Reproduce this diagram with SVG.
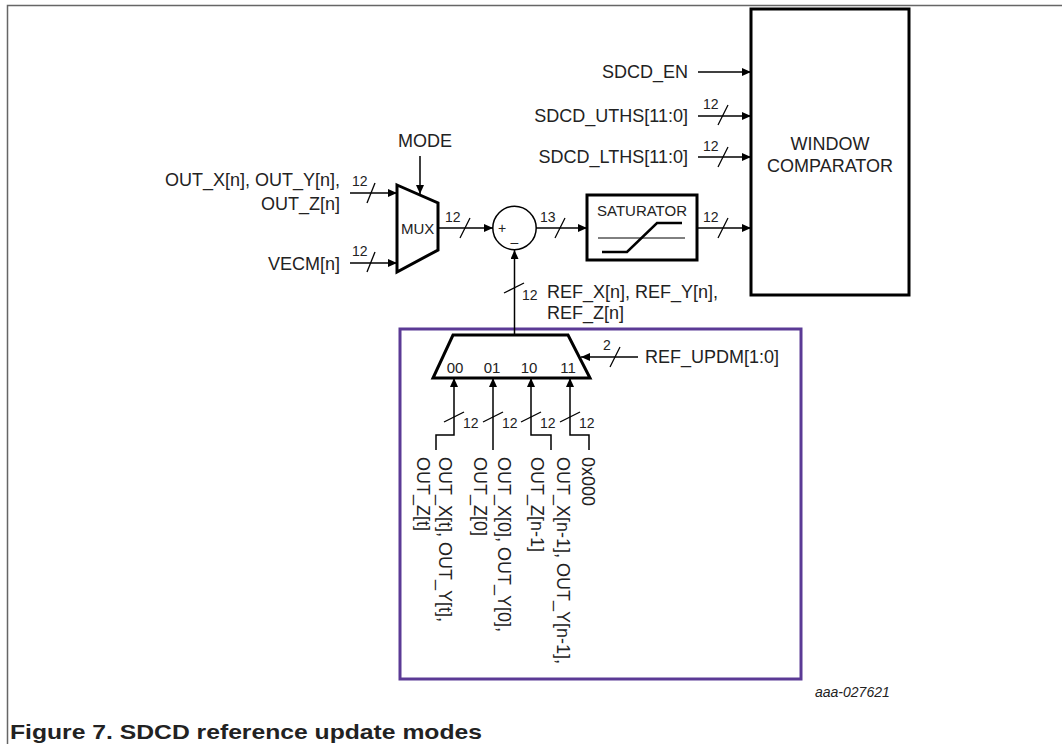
<svg xmlns="http://www.w3.org/2000/svg" width="1062" height="744" viewBox="0 0 1062 744">
<defs>
<marker id="ah" markerWidth="10" markerHeight="8" refX="9" refY="4" orient="auto" markerUnits="userSpaceOnUse">
<path d="M0,0 L9,4 L0,8 Z" fill="#000"/>
</marker>
<style>
text{font-family:"Liberation Sans",Arial,sans-serif;fill:#222}
.l{font-size:18px}
.s{font-size:14px}
.m{font-size:15px}
.w{stroke:#000;stroke-width:1.5;fill:none}
.sl{stroke:#000;stroke-width:1.3;fill:none}
.b{stroke:#000;stroke-width:3;fill:#fff}
</style>
</defs>
<rect width="1062" height="744" fill="#fff"/>
<path d="M7.5,744 V5.5 H1062" fill="none" stroke="#666" stroke-width="1.5"/>

<g id="window-comparator">
<rect class="b" x="751" y="9" width="158" height="286"/>
<text class="l" x="830" y="150" text-anchor="middle">WINDOW</text>
<text class="l" x="830" y="172" text-anchor="middle">COMPARATOR</text>
</g>

<g id="mux">
<path class="b" d="M397,185 L438,203 L438,250 L397,272 Z"/>
<text class="m" x="401" y="234">MUX</text>
</g>

<g id="summer">
<circle cx="514.5" cy="228" r="21.7" fill="#fff" stroke="#000" stroke-width="1.5"/>
<text class="s" x="502" y="233" text-anchor="middle">+</text>
<text class="s" x="514.5" y="247" text-anchor="middle">–</text>
</g>

<g id="saturator">
<rect class="b" x="587" y="195" width="110" height="65"/>
<text class="m" x="642" y="216" text-anchor="middle">SATURATOR</text>
<line x1="598" y1="238" x2="685" y2="238" stroke="#000" stroke-width="1"/>
<path d="M602,252 H627 L657,223 H682" fill="none" stroke="#000" stroke-width="2.5"/>
</g>

<g id="ref-mux-box">
<rect x="400" y="329" width="401" height="350" fill="none" stroke="#5b3a95" stroke-width="3"/>
</g>

<g id="ref-mux">
<path class="b" d="M453,335 L568,335 L590,378 L433,378 Z"/>
<text class="m" x="455" y="373" text-anchor="middle">00</text>
<text class="m" x="492" y="373" text-anchor="middle">01</text>
<text class="m" x="529" y="373" text-anchor="middle">10</text>
<text class="m" x="568" y="373" text-anchor="middle">11</text>
</g>

<g id="labels">
<text class="l" x="688" y="78" text-anchor="end">SDCD_EN</text>
<text class="l" x="688" y="122" text-anchor="end">SDCD_UTHS[11:0]</text>
<text class="l" x="688" y="163" text-anchor="end">SDCD_LTHS[11:0]</text>
<text class="l" x="425" y="147" text-anchor="middle">MODE</text>
<text class="l" x="340" y="186" text-anchor="end">OUT_X[n], OUT_Y[n],</text>
<text class="l" x="340" y="210" text-anchor="end">OUT_Z[n]</text>
<text class="l" x="340" y="270" text-anchor="end">VECM[n]</text>
<text class="l" x="547" y="298">REF_X[n], REF_Y[n],</text>
<text class="l" x="547" y="319">REF_Z[n]</text>
<text class="l" x="645" y="363">REF_UPDM[1:0]</text>
<g transform="translate(439,457) rotate(90)"><text class="l">OUT_X[t], OUT_Y[t],</text></g>
<g transform="translate(417,457) rotate(90)"><text class="l">OUT_Z[t]</text></g>
<g transform="translate(498,457) rotate(90)"><text class="l">OUT_X[0], OUT_Y[0],</text></g>
<g transform="translate(474,457) rotate(90)"><text class="l">OUT_Z[0]</text></g>
<g transform="translate(557,457) rotate(90)"><text class="l">OUT_X[n-1], OUT_Y[n-1],</text></g>
<g transform="translate(531,457) rotate(90)"><text class="l">OUT_Z[n-1]</text></g>
<g transform="translate(582,457) rotate(90)"><text class="l">0x000</text></g>
<text x="815" y="697" font-size="14" font-style="italic">aaa-027621</text>
<text x="10" y="739" font-size="21" font-weight="bold" fill="#333" textLength="472" lengthAdjust="spacingAndGlyphs">Figure 7.  SDCD reference update modes</text>
</g>

<g id="connectors">
<line class="w" x1="698" y1="72" x2="751" y2="72" marker-end="url(#ah)"/>
<line class="w" x1="698" y1="116" x2="751" y2="116" marker-end="url(#ah)"/>
<line class="w" x1="698" y1="157" x2="751" y2="157" marker-end="url(#ah)"/>
<line class="w" x1="420" y1="156" x2="420" y2="194" marker-end="url(#ah)"/>
<line class="w" x1="350" y1="193" x2="397" y2="193" marker-end="url(#ah)"/>
<line class="w" x1="350" y1="263" x2="397" y2="263" marker-end="url(#ah)"/>
<line class="w" x1="438" y1="228" x2="493" y2="228" marker-end="url(#ah)"/>
<line class="w" x1="536" y1="228" x2="587" y2="228" marker-end="url(#ah)"/>
<line class="w" x1="697" y1="228" x2="751" y2="228" marker-end="url(#ah)"/>
<line class="w" x1="514.5" y1="335" x2="514.5" y2="250" marker-end="url(#ah)"/>
<line class="w" x1="638" y1="357" x2="581" y2="357" marker-end="url(#ah)"/>
<path class="w" d="M436,450 V435 H454 V378" marker-end="url(#ah)"/>
<path class="w" d="M493,450 V378" marker-end="url(#ah)"/>
<path class="w" d="M551,450 V435 H531 V378" marker-end="url(#ah)"/>
<path class="w" d="M589,450 V435 H570 V378" marker-end="url(#ah)"/>
<g class="sl">
<line x1="718" y1="125" x2="728" y2="105"/>
<line x1="718" y1="167" x2="728" y2="147"/>
<line x1="367" y1="203" x2="375" y2="183"/>
<line x1="367" y1="272" x2="375" y2="252"/>
<line x1="460" y1="238" x2="470" y2="218"/>
<line x1="555" y1="238" x2="565" y2="218"/>
<line x1="718" y1="238" x2="728" y2="218"/>
<line x1="504" y1="293" x2="524" y2="283"/>
<line x1="610" y1="367" x2="620" y2="347"/>
<line x1="444" y1="422" x2="464" y2="412"/>
<line x1="483" y1="422" x2="503" y2="412"/>
<line x1="521" y1="422" x2="541" y2="412"/>
<line x1="560" y1="422" x2="580" y2="412"/>
</g>
<g class="s">
<text x="703" y="109">12</text>
<text x="703" y="151">12</text>
<text x="352" y="186">12</text>
<text x="352" y="256">12</text>
<text x="445" y="222">12</text>
<text x="540" y="222">13</text>
<text x="703" y="222">12</text>
<text x="522" y="300">12</text>
<text x="603" y="350">2</text>
<text x="463" y="428">12</text>
<text x="502" y="428">12</text>
<text x="540" y="428">12</text>
<text x="579" y="428">12</text>
</g>
</g>
</svg>
